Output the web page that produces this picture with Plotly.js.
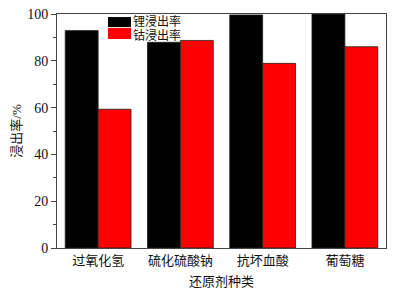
<!DOCTYPE html>
<html><head><meta charset="utf-8">
<script src="https://cdn.plot.ly/plotly-3.0.1.min.js"></script>
<style>body{margin:0;background:#fff}#c{width:396px;height:290px}</style>
</head><body><div id="c"></div>
<script>
const categories = ['过氧化氢', '硫化硫酸钠', '抗坏血酸', '葡萄糖'];
const liValues = [92.9, 87.9, 99.6, 100];
const coValues = [59.3, 88.7, 78.9, 86.0];
const seriesNames = ['锂浸出率', '钴浸出率'];
const seriesColors = ['#000000', '#ff0000'];
const yTicks = [0, 20, 40, 60, 80, 100];

const F = '"Liberation Serif", "Noto Sans CJK SC", serif';
const data = [
  {type:'bar', x:categories, y:liValues, name:seriesNames[0],
   marker:{color:seriesColors[0], line:{color:'#222', width:0.8}}},
  {type:'bar', x:categories, y:coValues, name:seriesNames[1],
   marker:{color:seriesColors[1], line:{color:'#222', width:0.8}}}
];
// custom legend (wide swatches like the reference)
const legX0 = 0.155, legX1 = 0.225, legTxtX = 0.228;
const legRows = [[0.944, 0.987, 0.970], [0.893, 0.940, 0.906]];
const shapes = legRows.map((r, i) => ({type:'rect', xref:'paper', yref:'paper',
  x0:legX0, x1:legX1, y0:r[0], y1:r[1], fillcolor:seriesColors[i], line:{width:0}}));
const annotations = legRows.map((r, i) => ({xref:'paper', yref:'paper', x:legTxtX, y:r[2],
  xanchor:'left', yanchor:'middle', showarrow:false, text:seriesNames[i], borderpad:0,
  font:{family:F, size:12, color:'#111'}}));

const layout = {
  width:396, height:290,
  margin:{l:57, r:10, t:14, b:42},
  paper_bgcolor:'#fff', plot_bgcolor:'#fff',
  barmode:'group', bargap:0.2, bargroupgap:0,
  font:{family:F, size:13, color:'#111'},
  showlegend:false,
  shapes: shapes, annotations: annotations,
  xaxis:{range:[-0.5, 3.5], showline:true, linecolor:'#444', linewidth:1, mirror:true,
         ticks:'', showgrid:false, zeroline:false,
         tickfont:{family:F, size:13},
         title:{text:'还原剂种类', font:{family:F, size:13}, standoff:10}},
  yaxis:{range:[0, 100], tickvals:yTicks, ticktext:yTicks.map(String),
         showline:true, linecolor:'#444', linewidth:1, mirror:true,
         ticks:'outside', ticklen:5, tickcolor:'#444', showgrid:false, zeroline:false,
         minor:{dtick:10, ticks:'outside', ticklen:3, tickcolor:'#444'},
         tickfont:{family:F, size:14},
         title:{text:'浸出率/%', font:{family:F, size:13}, standoff:2}}
};
Plotly.newPlot('c', data, layout, {staticPlot:true, displayModeBar:false});
</script></body></html>
